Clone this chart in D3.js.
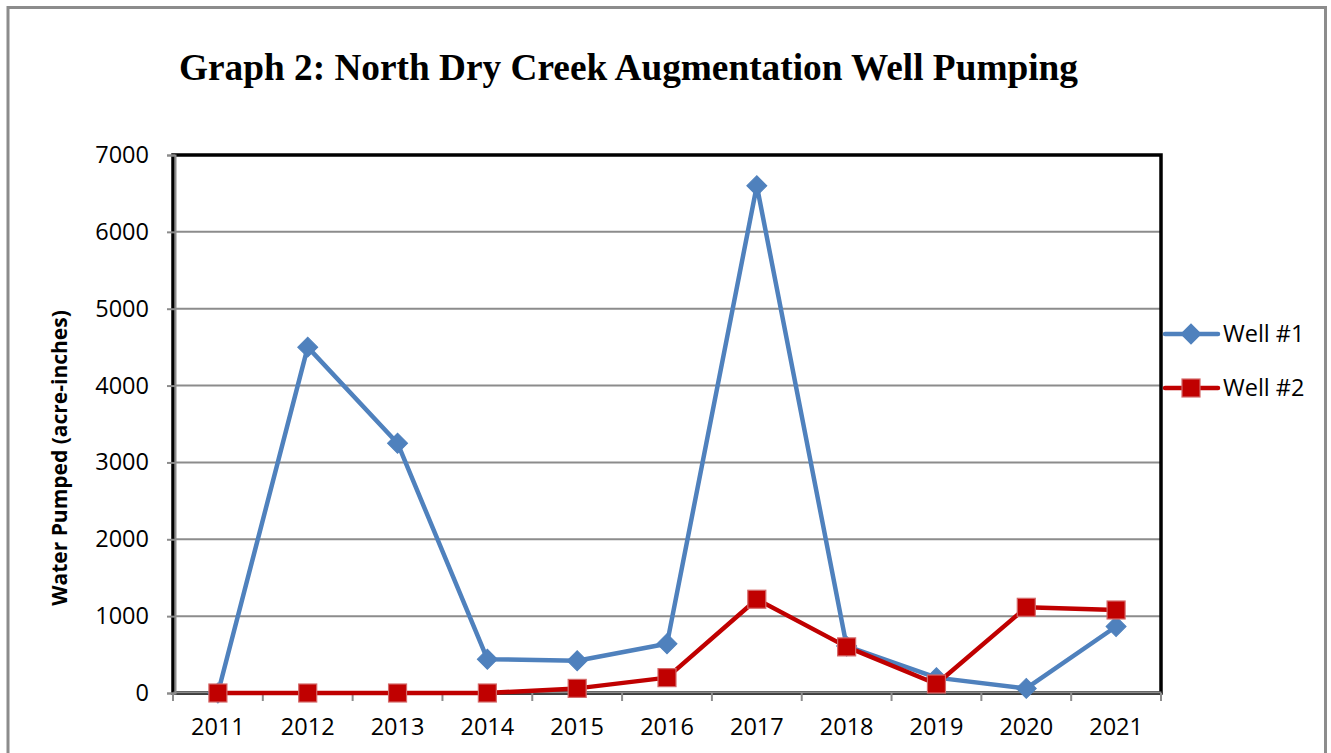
<!DOCTYPE html>
<html><head><meta charset="utf-8">
<script src="https://cdn.jsdelivr.net/npm/d3@7"></script>
<style>html,body{margin:0;padding:0;background:#fff;overflow:hidden}</style>
</head><body>
<svg id="c" width="1331" height="753"></svg>
<script>
const years = ["2011","2012","2013","2014","2015","2016","2017","2018","2019","2020","2021"];
const well1 = [0, 4500, 3250, 440, 420, 640, 6600, 610, 200, 60, 865];
const well2 = [0, 0, 0, 0, 60, 200, 1220, 600, 117, 1115, 1080];
const yTicks = [0, 1000, 2000, 3000, 4000, 5000, 6000, 7000];
const seriesNames = ["Well #1", "Well #2"];

const svg = d3.select("#c");
const L = 173, R = 1161, T = 155, B = 693;
const x = d3.scaleBand().domain(years).range([L, R]).padding(0);
const y = d3.scaleLinear().domain([0, 7000]).range([B, T]);
const cx = d => x(d) + x.bandwidth() / 2;
const FONT = "'Open Sans',sans-serif";

// outer frame
svg.append("rect").attr("x", 8).attr("y", 7.5).attr("width", 1317.5).attr("height", 760)
  .attr("fill", "none").attr("stroke", "#8c8c8c").attr("stroke-width", 3);

// title
svg.append("text").attr("x", 628.5).attr("y", 80).attr("text-anchor", "middle")
  .attr("font-family", "'Liberation Serif','Times New Roman',serif").attr("font-weight", "bold")
  .attr("font-size", 37.3).attr("fill", "#000").text("Graph 2: North Dry Creek Augmentation Well Pumping");

// gridlines
svg.append("g").selectAll("line").data(yTicks.filter(v => v > 0)).join("line")
  .attr("x1", L).attr("x2", R).attr("y1", d => y(d)).attr("y2", d => y(d))
  .attr("stroke", "#8c8c8c").attr("stroke-width", 2);

// plot border
svg.append("rect").attr("x", L).attr("y", T).attr("width", R - L).attr("height", B - T)
  .attr("fill", "none").attr("stroke", "#000").attr("stroke-width", 3.5);

// y axis
const yAxis = d3.axisLeft(y).tickValues(yTicks).tickSize(8).tickPadding(18).tickFormat(d3.format("d"));
const gy = svg.append("g").attr("transform", `translate(${L + 2},0)`).call(yAxis);
gy.select(".domain").attr("stroke", "#8c8c8c").attr("stroke-width", 2);
gy.selectAll(".tick line").attr("stroke", "#8c8c8c").attr("stroke-width", 2);
gy.selectAll(".tick text").attr("font-family", FONT).attr("font-size", 23.5).attr("fill", "#000");

// x axis
const xAxis = d3.axisBottom(x).tickSize(0).tickPadding(26);
const gx = svg.append("g").attr("transform", `translate(0,${B - 1})`).call(xAxis);
gx.select(".domain").attr("stroke", "#8c8c8c").attr("stroke-width", 2);
gx.selectAll(".tick text").attr("font-family", FONT).attr("font-size", 23.5).attr("fill", "#000");
svg.append("g").selectAll("line").data(years.concat(["_end"])).join("line")
  .attr("x1", d => d === "_end" ? R : x(d)).attr("x2", d => d === "_end" ? R : x(d))
  .attr("y1", B).attr("y2", B + 8).attr("stroke", "#8c8c8c").attr("stroke-width", 2);

// y axis title
svg.append("text").attr("transform", "translate(67,458) rotate(-90)").attr("text-anchor", "middle")
  .attr("font-family", FONT).attr("font-weight", "bold").attr("font-size", 21)
  .attr("fill", "#000").text("Water Pumped (acre-inches)");

const line = d3.line().x((d, i) => cx(years[i])).y(d => y(d));
const blue = "#4f81bd", red = "#c00000";

// well 1
svg.append("path").datum(well1).attr("d", line).attr("fill", "none").attr("stroke", blue)
  .attr("stroke-width", 4.5).attr("stroke-linejoin", "round");
const diamond = d3.symbol().type(d3.symbolSquare).size(200)();
svg.append("g").selectAll("path").data(well1).join("path").attr("d", diamond)
  .attr("transform", (d, i) => `translate(${cx(years[i])},${y(d)}) rotate(45)`)
  .attr("fill", blue).attr("stroke", blue).attr("stroke-width", 1);

// well 2
svg.append("path").datum(well2).attr("d", line).attr("fill", "none").attr("stroke", red)
  .attr("stroke-width", 4.5).attr("stroke-linejoin", "round");
svg.append("g").selectAll("rect").data(well2).join("rect")
  .attr("x", (d, i) => cx(years[i]) - 9).attr("y", d => y(d) - 9).attr("width", 18).attr("height", 18)
  .attr("fill", red).attr("stroke", "#d46a6a").attr("stroke-width", 1.2);

// legend
const leg = svg.append("g");
const legY = [334, 388];
seriesNames.forEach((name, i) => {
  const col = i === 0 ? blue : red;
  leg.append("line").attr("x1", 1165).attr("x2", 1218).attr("y1", legY[i]).attr("y2", legY[i])
    .attr("stroke", col).attr("stroke-width", 4.5).attr("stroke-linecap", "round");
  if (i === 0) {
    leg.append("path").attr("d", diamond).attr("transform", `translate(1191,${legY[i]}) rotate(45)`)
      .attr("fill", blue).attr("stroke", blue);
  } else {
    leg.append("rect").attr("x", 1182).attr("y", legY[i] - 9).attr("width", 18).attr("height", 18)
      .attr("fill", red).attr("stroke", "#d46a6a").attr("stroke-width", 1.2);
  }
  leg.append("text").attr("x", 1223).attr("y", legY[i]).attr("dy", "0.35em")
    .attr("font-family", FONT).attr("font-size", 23.5).attr("fill", "#000").text(name);
});
</script>
</body></html>
